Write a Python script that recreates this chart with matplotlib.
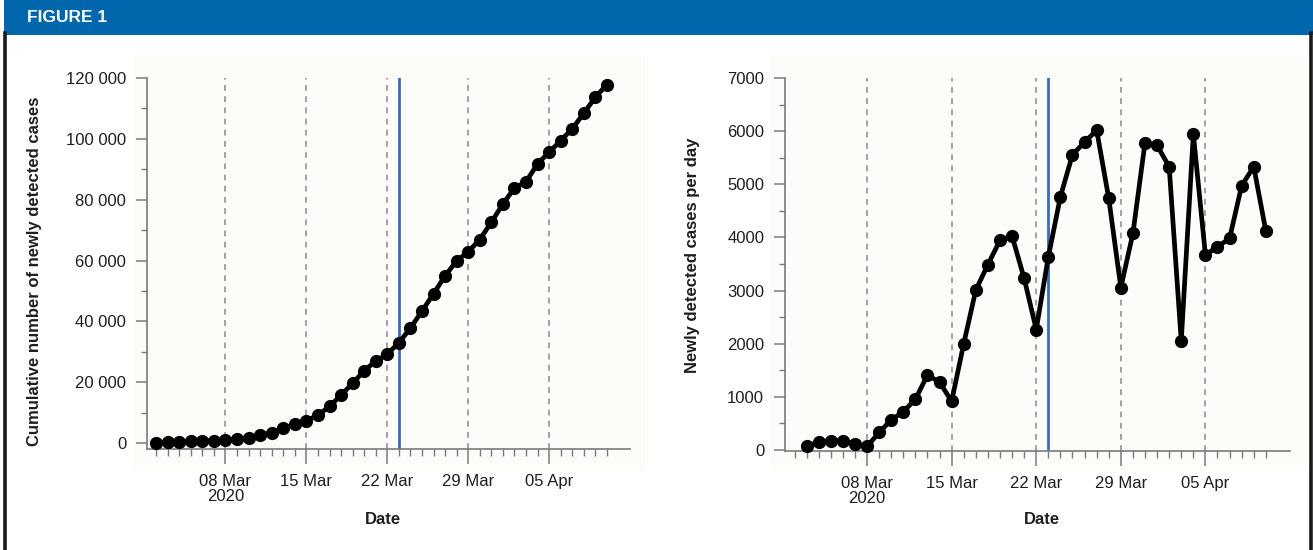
import matplotlib
matplotlib.use("Agg")
import matplotlib.pyplot as plt
import matplotlib.dates as mdates
from matplotlib import font_manager
from matplotlib.patches import Rectangle
from matplotlib.ticker import FixedLocator, MultipleLocator, FuncFormatter
import pandas as pd

# ---- data -------------------------------------------------------------
cum_start = "2020-03-02"
cumulative_cases = [
    190, 260, 400, 580, 760, 870, 930, 1260, 1830, 2550,
    3500, 4900, 6200, 7400, 9200, 12100, 15800, 19700, 23800, 27000,
    29300, 33000, 37800, 43400, 49100, 55000, 59900, 62900, 66900, 72600,
    78600, 83800, 85900, 91800, 95600, 99400, 103300, 108400, 113700, 117800,
]

daily_start = "2020-03-03"
daily_cases = [
    75, 145, 175, 175, 115, 65, 330, 565, 720, 955,
    1410, 1275, 915, 2000, 3010, 3490, 3945, 4025, 3230, 2265,
    3635, 4765, 5560, 5790, 6020, 4735, 3055, 4075, 5780, 5730,
    5330, 2050, 5945, 3670, 3825, 3980, 4975, 5330, 4120,
]

week_marks = ["2020-03-08", "2020-03-15", "2020-03-22", "2020-03-29", "2020-04-05"]
week_labels = ["08 Mar\n2020", "15 Mar", "22 Mar", "29 Mar", "05 Apr"]
intervention_date = "2020-03-23"

# ---- fonts ------------------------------------------------------------
installed = {f.name for f in font_manager.fontManager.ttflist}
if "Liberation Sans Narrow" in installed:
    FAM = ["Liberation Sans Narrow", "Liberation Sans", "DejaVu Sans"]
    TICK_FS, LABEL_FS, HEAD_FS = 14.2, 14.3, 14
else:
    FAM = ["Liberation Sans", "DejaVu Sans"]
    TICK_FS, LABEL_FS, HEAD_FS = 12.0, 12.0, 12.5
plt.rcParams["font.family"] = FAM

W, H = 1313, 550
fig = plt.figure(figsize=(W / 100, H / 100), dpi=100)
fig.patch.set_facecolor("white")


def px_rect(x0, y0, x1, y1):
    """Pixel box (top-left origin) -> figure fraction [l, b, w, h]."""
    return [x0 / W, 1 - y1 / H, (x1 - x0) / W, (y1 - y0) / H]


# header band and frame
fig.patches.append(Rectangle((4 / W, 1 - 35 / H), (W - 4) / W, 35 / H,
                             transform=fig.transFigure, facecolor="#0067ac",
                             edgecolor="none", zorder=-2))
fig.text(27 / W, 1 - 18 / H, "FIGURE 1", color="white", fontweight="bold",
         fontsize=HEAD_FS, va="center", ha="left")
for xe in (5, W - 2):
    fig.add_artist(plt.Line2D([xe / W, xe / W], [0, 1 - 33 / H],
                              transform=fig.transFigure, color="#1a1a1a", lw=2.6))

# faint panel backgrounds
for (x0, y0, x1, y1) in [(133, 55, 645, 470), (770, 55, 1305, 470)]:
    l, b, w, h = px_rect(x0, y0, x1, y1)
    fig.patches.append(Rectangle((l, b), w, h, transform=fig.transFigure,
                                 facecolor="#fcfcf9", edgecolor="none", zorder=-2))

ax1 = fig.add_axes(px_rect(147, 78, 630, 449))
ax2 = fig.add_axes(px_rect(785, 78, 1290, 451))

cum_dates = pd.date_range(cum_start, periods=len(cumulative_cases), freq="D")
daily_dates = pd.date_range(daily_start, periods=len(daily_cases), freq="D")
day_ticks = pd.date_range("2020-03-02", "2020-04-10", freq="D")

xmin = mdates.date2num(pd.Timestamp("2020-03-01 05:00"))
xmax = mdates.date2num(pd.Timestamp("2020-04-12"))

panels = [
    (ax1, cum_dates, cumulative_cases, (-1900, 120000), 20000, 10000,
     "Cumulative number of newly detected cases"),
    (ax2, daily_dates, daily_cases, (-20, 7000), 1000, 500,
     "Newly detected cases per day"),
]

for ax, dates, vals, ylim, major, minor, ylabel in panels:
    ax.set_facecolor("none")
    for d in week_marks:
        ax.axvline(mdates.date2num(pd.Timestamp(d)), color="#9a9a9a", lw=1.3,
                   ls=(0, (3.2, 3.0)), zorder=1)
    ax.axvline(mdates.date2num(pd.Timestamp(intervention_date)), color="#3a6db5",
               lw=2.0, zorder=2)
    ax.plot(mdates.date2num(dates), vals, color="black", lw=3.4, marker="o",
            markersize=8.5, markerfacecolor="black", markeredgecolor="black",
            zorder=3, solid_joinstyle="round", clip_on=False)

    ax.set_xlim(xmin, xmax)
    ax.set_ylim(*ylim)
    for s in ("top", "right"):
        ax.spines[s].set_visible(False)
    for s in ("left", "bottom"):
        ax.spines[s].set_color("#7a7a7a")
        ax.spines[s].set_linewidth(1.2)

    ax.xaxis.set_major_locator(FixedLocator(
        [mdates.date2num(pd.Timestamp(d)) for d in week_marks]))
    ax.set_xticklabels(week_labels, linespacing=1.0)
    ax.xaxis.set_minor_locator(FixedLocator(mdates.date2num(day_ticks)))
    ax.yaxis.set_major_locator(MultipleLocator(major))
    ax.yaxis.set_minor_locator(MultipleLocator(minor))
    if ax is ax1:
        ax.yaxis.set_major_formatter(FuncFormatter(
            lambda v, p: f"{int(v):,}".replace(",", " ")))
    else:
        ax.yaxis.set_major_formatter(FuncFormatter(lambda v, p: f"{int(v)}"))

    ax.tick_params(axis="x", which="major", length=11, width=1.1, color="#7a7a7a",
                   pad=7, labelsize=TICK_FS, labelcolor="#1e1e1e")
    ax.tick_params(axis="x", which="minor", length=5, width=1.0, color="#7a7a7a")
    ax.tick_params(axis="y", which="major", length=8, width=1.1, color="#7a7a7a",
                   pad=7, labelsize=TICK_FS, labelcolor="#1e1e1e")
    ax.tick_params(axis="y", which="minor", length=4, width=1.0, color="#7a7a7a")

    ax.set_xlabel("Date", fontweight="bold", fontsize=LABEL_FS, color="#1e1e1e")
    ax.set_ylabel(ylabel, fontweight="bold", fontsize=LABEL_FS, color="#1e1e1e")

# place axis labels
ax1.yaxis.set_label_coords(35 / W, 1 - 271 / H, transform=fig.transFigure)
ax2.yaxis.set_label_coords(692 / W, 1 - 255 / H, transform=fig.transFigure)
ax1.xaxis.set_label_coords(383 / W, 1 - 520 / H, transform=fig.transFigure)
ax2.xaxis.set_label_coords(1042 / W, 1 - 520 / H, transform=fig.transFigure)
for ax in (ax1, ax2):
    ax.xaxis.label.set_va("center")
    ax.yaxis.label.set_va("center")

fig.savefig("out.png", dpi=100)
